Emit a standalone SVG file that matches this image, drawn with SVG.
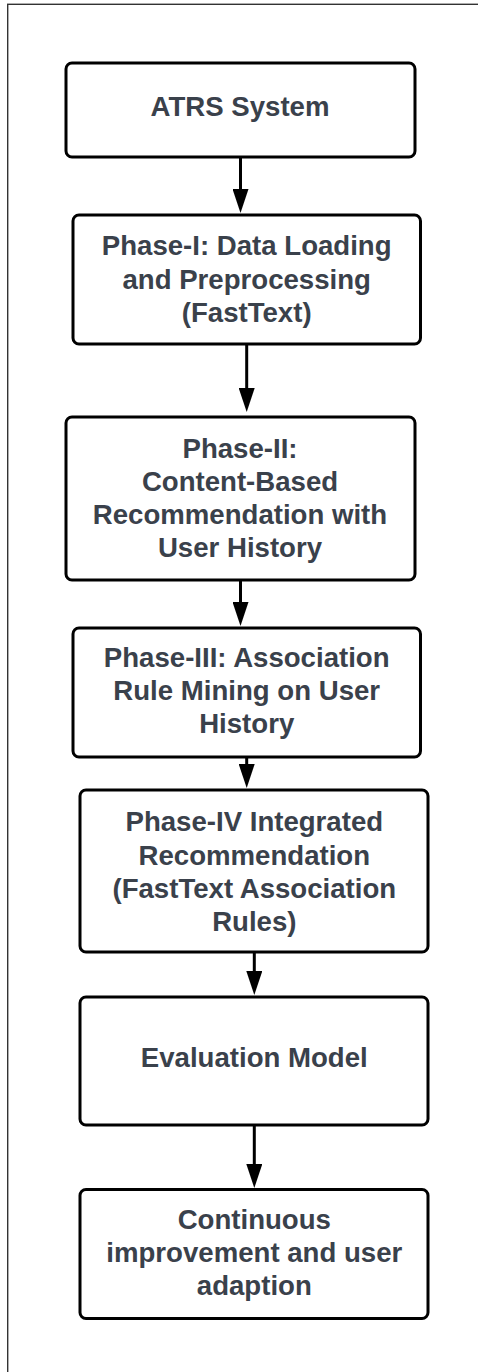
<svg xmlns="http://www.w3.org/2000/svg" width="478" height="1372" viewBox="0 0 478 1372">
<style>
.box{fill:#fff;stroke:#000;stroke-width:3}
.lbl{font-family:"Liberation Sans",Arial,sans-serif;font-weight:bold;font-size:27.6px;fill:#3a414b;text-anchor:middle}
.conn{stroke:#000;stroke-width:3;fill:none}
.frame{fill:none;stroke:#333;stroke-width:1.4}
</style>
<defs>
<marker id="arr" markerUnits="userSpaceOnUse" markerWidth="24" markerHeight="16" refX="18" refY="8" orient="auto" viewBox="0 0 24 16">
<path d="M0,0 L24,8 L0,16 Z" fill="#000"/>
</marker>
</defs>
<rect width="478" height="1372" fill="#fff"/>
<rect class="frame" x="7.7" y="4.3" width="480" height="1380"/>
<g id="connectors">
<line class="conn" x1="240.5" y1="157" x2="240.5" y2="207" marker-end="url(#arr)"/>
<line class="conn" x1="246.7" y1="344" x2="246.7" y2="406" marker-end="url(#arr)"/>
<line class="conn" x1="240.5" y1="580" x2="240.5" y2="620" marker-end="url(#arr)"/>
<line class="conn" x1="246.7" y1="757" x2="246.7" y2="782" marker-end="url(#arr)"/>
<line class="conn" x1="254.3" y1="952" x2="254.3" y2="989" marker-end="url(#arr)"/>
<line class="conn" x1="254.3" y1="1125" x2="254.3" y2="1182" marker-end="url(#arr)"/>
</g>
<g id="n1">
<rect class="box" x="66" y="63" width="349" height="94" rx="6"/>
<text class="lbl" x="240" y="116">ATRS System</text>
</g>
<g id="n2">
<rect class="box" x="73" y="215" width="347.5" height="129" rx="6"/>
<text class="lbl" x="246.7" y="255">Phase-I: Data Loading</text>
<text class="lbl" x="246.7" y="288.5">and Preprocessing</text>
<text class="lbl" x="246.7" y="322">(FastText)</text>
</g>
<g id="n3">
<rect class="box" x="66" y="417" width="349" height="163" rx="6"/>
<text class="lbl" x="240" y="457.5">Phase-II:</text>
<text class="lbl" x="240" y="490.5">Content-Based</text>
<text class="lbl" x="240" y="523.5">Recommendation with</text>
<text class="lbl" x="240" y="557">User History</text>
</g>
<g id="n4">
<rect class="box" x="73" y="628" width="347.5" height="129" rx="6"/>
<text class="lbl" x="246.7" y="667">Phase-III: Association</text>
<text class="lbl" x="246.7" y="700">Rule Mining on User</text>
<text class="lbl" x="246.7" y="733">History</text>
</g>
<g id="n5">
<rect class="box" x="80" y="790" width="348" height="162" rx="6"/>
<text class="lbl" x="254.3" y="831">Phase-IV Integrated</text>
<text class="lbl" x="254.3" y="864.5">Recommendation</text>
<text class="lbl" x="254.3" y="898">(FastText Association</text>
<text class="lbl" x="254.3" y="931">Rules)</text>
</g>
<g id="n6">
<rect class="box" x="80" y="997" width="348" height="128" rx="6"/>
<text class="lbl" x="254.3" y="1067">Evaluation Model</text>
</g>
<g id="n7">
<rect class="box" x="80" y="1189.5" width="348" height="129" rx="6"/>
<text class="lbl" x="254.3" y="1228.5">Continuous</text>
<text class="lbl" x="254.3" y="1262">improvement and user</text>
<text class="lbl" x="254.3" y="1295">adaption</text>
</g>
</svg>
